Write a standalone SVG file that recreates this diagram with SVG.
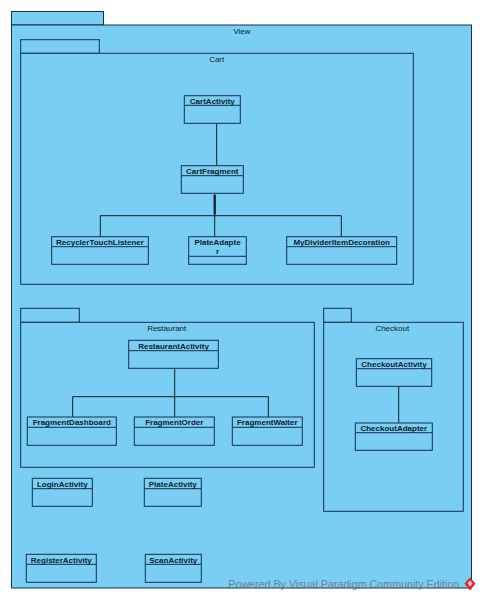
<svg xmlns="http://www.w3.org/2000/svg" width="483" height="601" viewBox="0 0 483 601">
<style>
.pkg{fill:#7acef3;stroke:#12304d;stroke-width:1}
.cls{fill:#7acef3;stroke:#12304d;stroke-width:1}
.div{stroke:#12304d;stroke-width:1;fill:none}
.pl{font-family:"Liberation Sans",Arial,sans-serif;font-size:8px;fill:#0b1c2c;text-anchor:middle}
.cn{font-family:"Liberation Sans",Arial,sans-serif;font-size:8px;font-weight:bold;fill:#0b1c2c;text-anchor:middle}
.conn{stroke:#0d1a26;stroke-width:1;fill:none}
.wm{font-family:"Liberation Sans",Arial,sans-serif;font-size:10.5px;fill:#6b7488;opacity:0.85}
</style>
<rect width="483" height="601" fill="#ffffff"/>

<g id="pkg-view">
<rect class="pkg" x="11.5" y="11.5" width="92" height="13.5"/>
<rect class="pkg" x="11.5" y="25" width="460" height="563"/>
<text class="pl" x="242" y="34.3">View</text>
</g>

<g id="pkg-cart">
<rect class="pkg" x="20.7" y="39.7" width="78.6" height="13.6"/>
<rect class="pkg" x="20.7" y="53.3" width="392.6" height="231"/>
<text class="pl" x="216.7" y="62">Cart</text>
</g>

<g id="pkg-restaurant">
<rect class="pkg" x="20.7" y="308.3" width="58.6" height="14"/>
<rect class="pkg" x="20.7" y="322.3" width="293.6" height="145"/>
<text class="pl" x="166.7" y="330.5">Restaurant</text>
</g>

<g id="pkg-checkout">
<rect class="pkg" x="323.7" y="308.3" width="27.6" height="14"/>
<rect class="pkg" x="323.7" y="322.3" width="139.6" height="189"/>
<text class="pl" x="392.3" y="330.5">Checkout</text>
</g>

<g id="connectors">
<line class="conn" x1="216.7" y1="123.3" x2="216.7" y2="165.7"/>
<line x1="214.7" y1="195" x2="214.7" y2="214.5" stroke="#0d1a26" stroke-width="2.2"/>
<line class="conn" x1="214.7" y1="193.3" x2="214.7" y2="236.7"/>
<polyline class="conn" points="100.3,236.7 100.3,215.7 341.3,215.7 341.3,236.7"/>
<line class="conn" x1="174.7" y1="368.3" x2="174.7" y2="417"/>
<polyline class="conn" points="72.7,417 72.7,396.7 268.3,396.7 268.3,417"/>
<line class="conn" x1="398.7" y1="386.3" x2="398.7" y2="423"/>
</g>

<g id="CartActivity">
<rect class="cls" x="184.3" y="95.7" width="56" height="27.6"/>
<line class="div" x1="184.3" y1="105.3" x2="240.3" y2="105.3"/>
<text class="cn" x="212.3" y="103.6">CartActivity</text>
</g>
<g id="CartFragment">
<rect class="cls" x="181.3" y="165.7" width="62" height="27.6"/>
<line class="div" x1="181.3" y1="175.7" x2="243.3" y2="175.7"/>
<text class="cn" x="212.3" y="173.8">CartFragment</text>
</g>
<g id="RecyclerTouchListener">
<rect class="cls" x="51.7" y="236.7" width="96.6" height="27.6"/>
<line class="div" x1="51.7" y1="246.7" x2="148.3" y2="246.7"/>
<text class="cn" x="100" y="244.8">RecyclerTouchListener</text>
</g>
<g id="PlateAdapter">
<rect class="cls" x="188.7" y="236.7" width="57.6" height="27.6"/>
<line class="div" x1="188.7" y1="256.3" x2="246.3" y2="256.3"/>
<text class="cn" x="217.5" y="245">PlateAdapte</text>
<text class="cn" x="217.5" y="254.3">r</text>
</g>
<g id="MyDividerItemDecoration">
<rect class="cls" x="286.7" y="236.7" width="110" height="27.6"/>
<line class="div" x1="286.7" y1="246.7" x2="396.7" y2="246.7"/>
<text class="cn" x="341.7" y="244.8">MyDividerItemDecoration</text>
</g>

<g id="RestaurantActivity">
<rect class="cls" x="128.7" y="340.3" width="89.6" height="28"/>
<line class="div" x1="128.7" y1="350.7" x2="218.3" y2="350.7"/>
<text class="cn" x="173.5" y="348.6">RestaurantActivity</text>
</g>
<g id="FragmentDashboard">
<rect class="cls" x="27.3" y="417" width="89" height="28.3"/>
<line class="div" x1="27.3" y1="427.3" x2="116.3" y2="427.3"/>
<text class="cn" x="71.8" y="425.3">FragmentDashboard</text>
</g>
<g id="FragmentOrder">
<rect class="cls" x="134.3" y="417" width="80" height="28.3"/>
<line class="div" x1="134.3" y1="427.3" x2="214.3" y2="427.3"/>
<text class="cn" x="174.3" y="425.3">FragmentOrder</text>
</g>
<g id="FragmentWaiter">
<rect class="cls" x="232.3" y="417" width="70" height="28.3"/>
<line class="div" x1="232.3" y1="427.3" x2="302.3" y2="427.3"/>
<text class="cn" x="267.3" y="425.3">FragmentWaiter</text>
</g>

<g id="CheckoutActivity">
<rect class="cls" x="356.3" y="358.7" width="75.4" height="27.6"/>
<line class="div" x1="356.3" y1="368.7" x2="431.7" y2="368.7"/>
<text class="cn" x="394" y="366.8">CheckoutActivity</text>
</g>
<g id="CheckoutAdapter">
<rect class="cls" x="355.3" y="423" width="77" height="27.3"/>
<line class="div" x1="355.3" y1="432.7" x2="432.3" y2="432.7"/>
<text class="cn" x="393.8" y="431">CheckoutAdapter</text>
</g>

<g id="LoginActivity">
<rect class="cls" x="32.3" y="478.3" width="60" height="28"/>
<line class="div" x1="32.3" y1="488.7" x2="92.3" y2="488.7"/>
<text class="cn" x="62.3" y="486.6">LoginActivity</text>
</g>
<g id="PlateActivity">
<rect class="cls" x="144.3" y="478.3" width="57" height="28"/>
<line class="div" x1="144.3" y1="488.7" x2="201.3" y2="488.7"/>
<text class="cn" x="172.8" y="486.6">PlateActivity</text>
</g>
<g id="RegisterActivity">
<rect class="cls" x="26.3" y="554.3" width="70" height="28"/>
<line class="div" x1="26.3" y1="564.3" x2="96.3" y2="564.3"/>
<text class="cn" x="61.3" y="562.5">RegisterActivity</text>
</g>
<g id="ScanActivity">
<rect class="cls" x="145.3" y="554.3" width="56" height="28"/>
<line class="div" x1="145.3" y1="564.3" x2="201.3" y2="564.3"/>
<text class="cn" x="173.3" y="562.5">ScanActivity</text>
</g>

<g id="watermark">
<text class="wm" x="228.3" y="587.5" textLength="231" lengthAdjust="spacingAndGlyphs">Powered By Visual Paradigm Community Edition</text>
<path d="M470,577.5 L475.5,583.5 L470,590.5 L464.5,583.5 Z" fill="#d8262e"/>
<path d="M470,580.5 L472.5,583.5 L470,586.5 L467.5,583.5 Z" fill="#f6c9c9"/>
</g>
</svg>
